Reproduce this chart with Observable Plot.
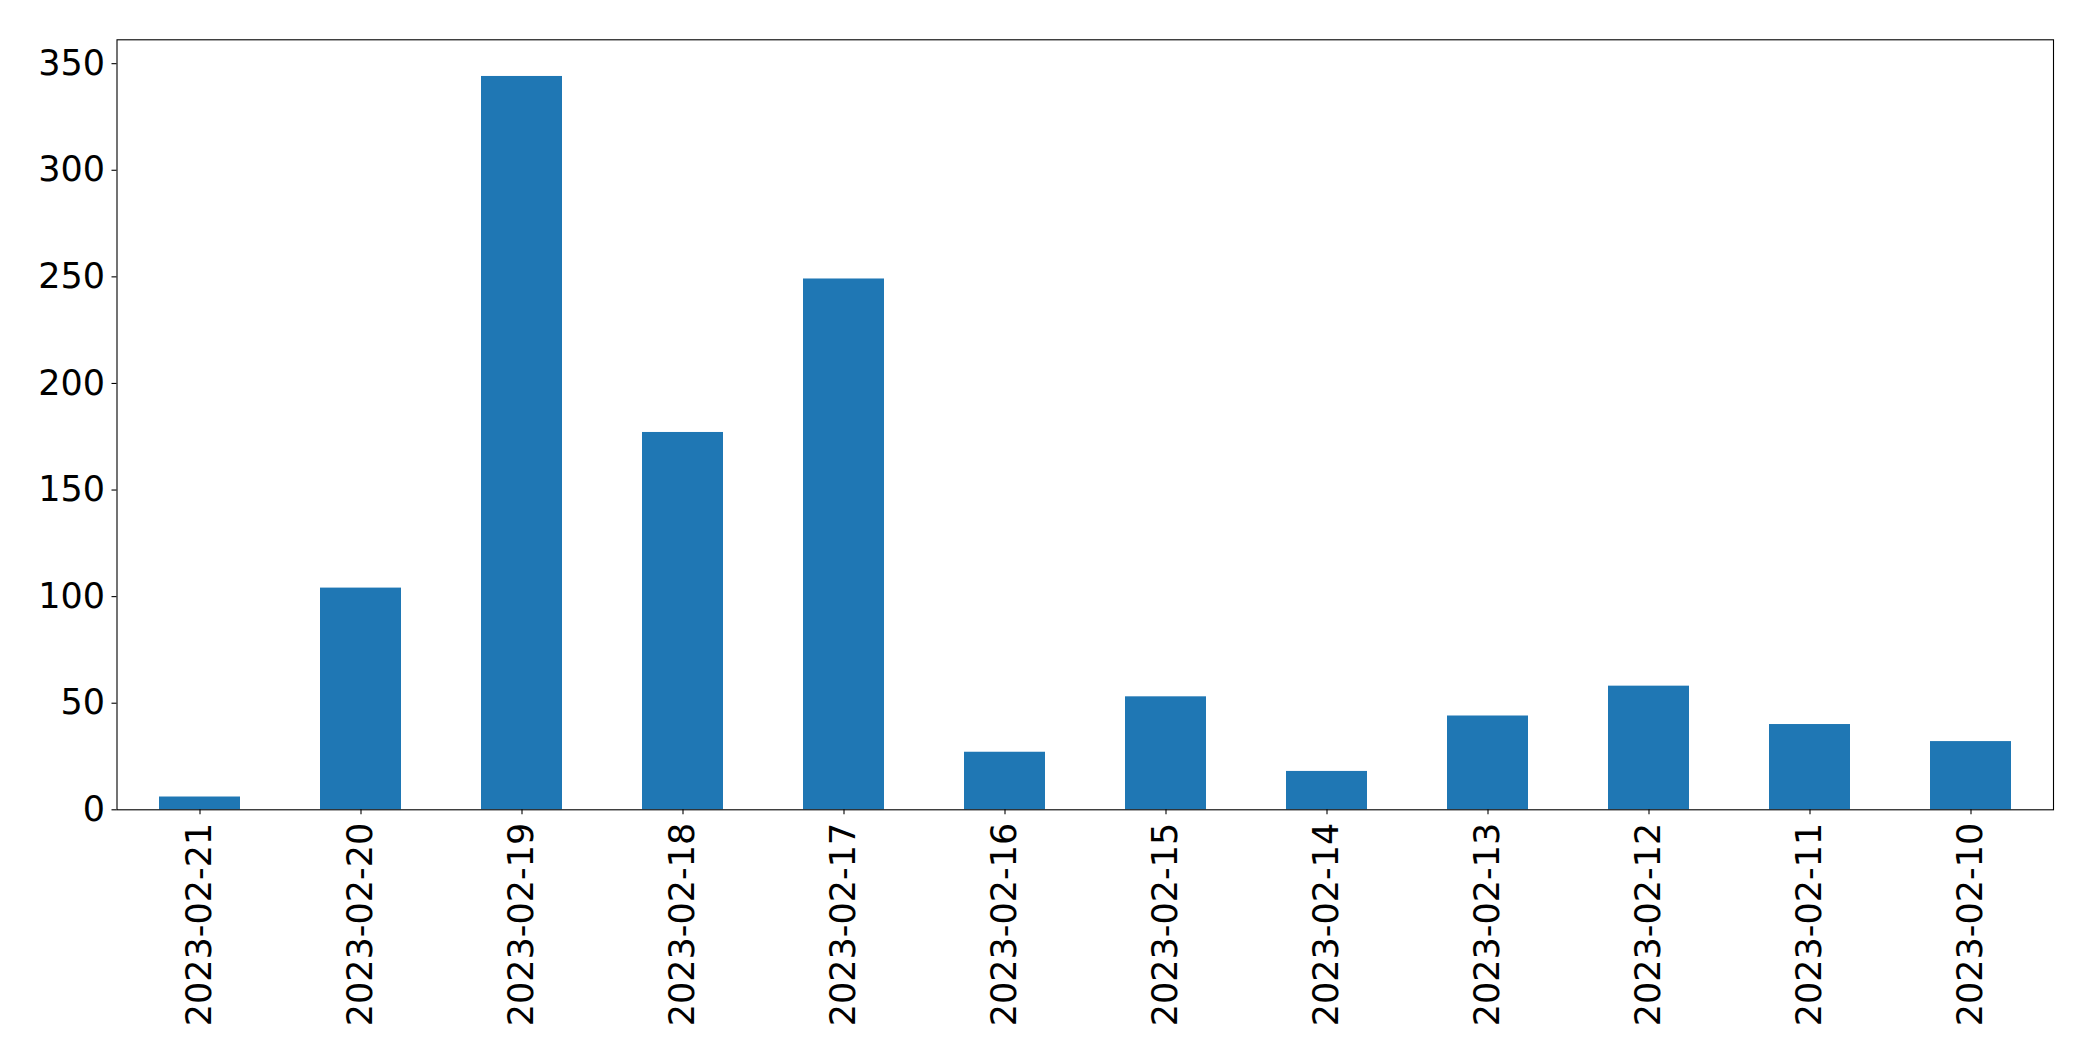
<!DOCTYPE html>
<html>
<head>
<meta charset="utf-8">
<script src="https://cdn.jsdelivr.net/npm/d3@7"></script>
<script src="https://cdn.jsdelivr.net/npm/@observablehq/plot@0.6"></script>
<style>
  html, body { margin: 0; padding: 0; background: #fff; }
  #chart svg { display: block; }
</style>
</head>
<body>
<div id="chart"></div>
<script>
const dates = ["2023-02-21","2023-02-20","2023-02-19","2023-02-18","2023-02-17","2023-02-16",
               "2023-02-15","2023-02-14","2023-02-13","2023-02-12","2023-02-11","2023-02-10"];
const counts = [6, 104, 344, 177, 249, 27, 53, 18, 44, 58, 40, 32];
const yTicks = [0, 50, 100, 150, 200, 250, 300, 350];

const data = dates.map((d, i) => ({date: d, count: counts[i]}));

const chart = Plot.plot({
  width: 2093,
  height: 1061,
  marginLeft: 116.5,
  marginRight: 40,
  marginTop: 39.3,
  marginBottom: 251.7,
  style: {fontFamily: "'DejaVu Sans', sans-serif", fontSize: "35px", color: "#000", background: "#fff"},
  x: {type: "band", domain: dates, paddingInner: 0.5, paddingOuter: 0.25, align: 0.5},
  y: {domain: [0, d3.max(counts) * 1.05]},
  marks: [
    Plot.barY(data, {x: "date", y: "count", fill: "#1f77b4"}),
    Plot.frame({stroke: "#000", strokeWidth: 1.1}),
    Plot.axisY({ticks: yTicks, tickSize: 5, tickPadding: 7, fontSize: 35, label: null, stroke: "#000", strokeWidth: 1.1}),
    Plot.axisX({tickSize: 5, tickPadding: 8, tickRotate: -90, fontSize: 35, label: null, stroke: "#000", strokeWidth: 1.1})
  ]
});
document.getElementById("chart").appendChild(chart);
</script>
</body>
</html>
